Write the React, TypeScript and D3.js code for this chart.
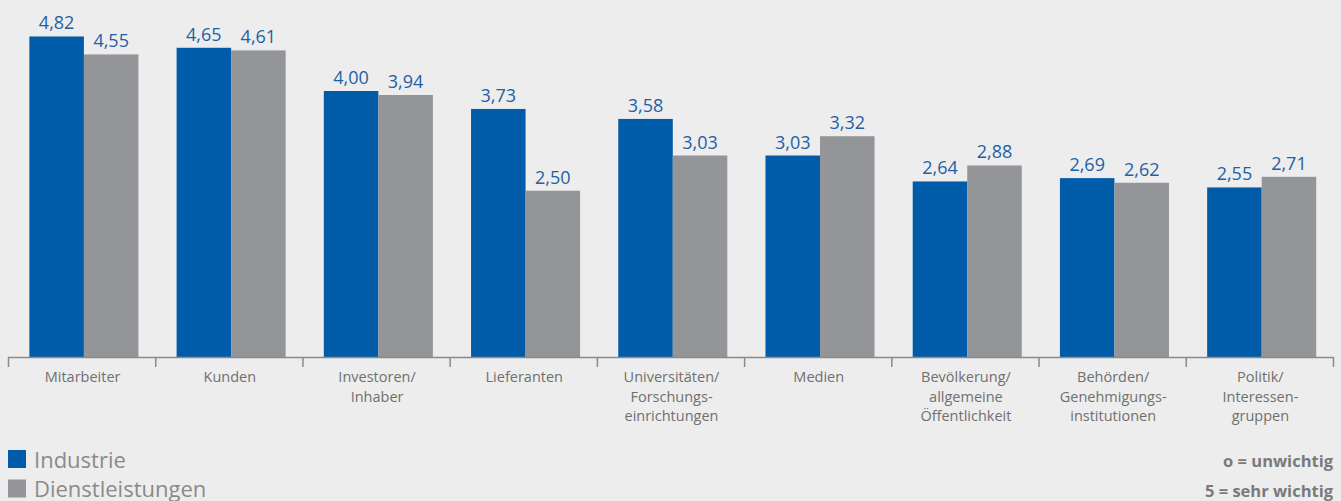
import React from "react";
import * as d3 from "d3";

const categories = [
  ["Mitarbeiter"],
  ["Kunden"],
  ["Investoren/", "Inhaber"],
  ["Lieferanten"],
  ["Universitäten/", "Forschungs-", "einrichtungen"],
  ["Medien"],
  ["Bevölkerung/", "allgemeine", "Öffentlichkeit"],
  ["Behörden/", "Genehmigungs-", "institutionen"],
  ["Politik/", "Interessen-", "gruppen"],
];
const seriesNames = ["Industrie", "Dienstleistungen"];
const industrie = [4.82, 4.65, 4.0, 3.73, 3.58, 3.03, 2.64, 2.69, 2.55];
const dienstleistungen = [4.55, 4.61, 3.94, 2.5, 3.03, 3.32, 2.88, 2.62, 2.71];
const notes = ["o = unwichtig", "5 = sehr wichtig"];

const W = 1341;
const H = 501;
const colors = ["#005ca9", "#939598"];
const FONT = "'Open Sans', 'Noto Sans', sans-serif";

export default function App() {
  const keys = categories.map((c) => c.join(" "));
  const x = d3.scaleBand<string>().domain(keys).range([8, 1333]).padding(0);
  const xs = d3
    .scaleBand<string>()
    .domain(seriesNames)
    .range([0, x.bandwidth()])
    .paddingInner(0)
    .paddingOuter(0.35)
    .align(0.56);
  const baseY = 357;
  const y = d3.scaleLinear().domain([0, 5]).range([baseY, baseY - 332.5]);
  const series = [industrie, dienstleistungen];
  const fmt = (v: number) => v.toFixed(2).replace(".", ",");

  return (
    <svg
      width={W}
      height={H}
      style={{ position: "absolute", left: 0, top: 0, background: "#ededed" }}
      fontFamily={FONT}
    >
      <rect x={0} y={0} width={W} height={H} fill="#ededed" />
      {keys.map((k, i) => (
        <g key={k}>
          {series.map((s, j) => {
            const bx = (x(k) as number) + (xs(seriesNames[j]) as number);
            const v = s[i];
            return (
              <g key={j}>
                <rect
                  x={bx}
                  y={y(v)}
                  width={xs.bandwidth()}
                  height={baseY - y(v)}
                  fill={colors[j]}
                />
                <text
                  x={bx + xs.bandwidth() / 2}
                  y={y(v) - 7}
                  textAnchor="middle"
                  fontSize={18}
                  fill="#1f5fa6"
                >
                  {fmt(v)}
                </text>
              </g>
            );
          })}
          {categories[i].map((line, li) => (
            <text
              key={li}
              x={(x(k) as number) + x.bandwidth() / 2 + 1}
              y={382 + li * 19.5}
              textAnchor="middle"
              fontSize={14.5}
              fill="#707070"
            >
              {line}
            </text>
          ))}
        </g>
      ))}
      <line x1={8} x2={1333} y1={baseY + 0.5} y2={baseY + 0.5} stroke="#8a8a8a" strokeWidth={1.5} />
      {[...keys.map((k) => x(k) as number), 1333].map((tx, i) => (
        <line key={i} x1={tx + 0.5} x2={tx + 0.5} y1={baseY} y2={baseY + 10} stroke="#8a8a8a" strokeWidth={1.5} />
      ))}
      {seriesNames.map((n, j) => (
        <g key={n}>
          <rect x={8} y={450 + j * 29.5} width={18} height={18} fill={colors[j]} />
          <text x={34} y={468 + j * 29} fontSize={22} fill="#8a8a8a">
            {n}
          </text>
        </g>
      ))}
      {notes.map((n, i) => (
        <text
          key={n}
          x={1333}
          y={467 + i * 29.5}
          textAnchor="end"
          fontSize={16.5}
          fontWeight="bold"
          fill="#7a7a7a"
        >
          {n}
        </text>
      ))}
    </svg>
  );
}
